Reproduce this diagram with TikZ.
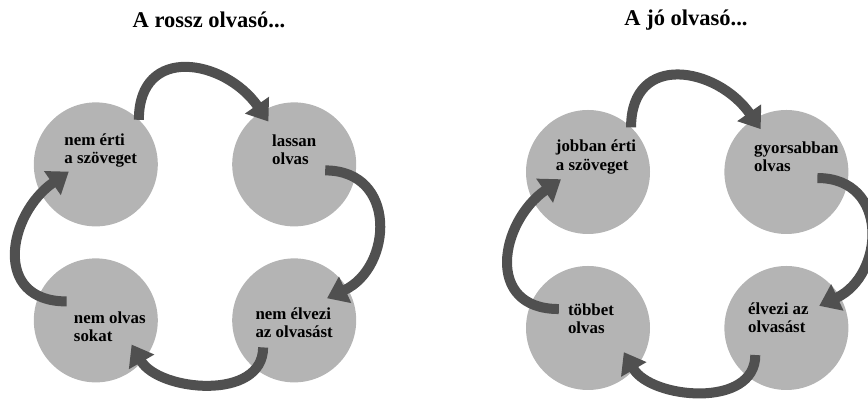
\documentclass[tikz,border=0pt]{standalone}
\usepackage{fontspec}
\setmainfont{Liberation Serif}
\usepackage{tikz}
\usetikzlibrary{calc,arrows.meta}

\definecolor{korgray}{RGB}{180,180,180}
\definecolor{nyilgray}{RGB}{80,80,80}

\begin{document}
\begin{tikzpicture}[
	kor/.style={circle, fill=korgray, minimum size=3.1cm, inner sep=0pt},
	szoveg/.style={font=\bfseries\fontsize{12}{13}\selectfont, align=left, inner sep=0pt},
	cim/.style={font=\bfseries\fontsize{16}{19}\selectfont, inner sep=0pt},
	nyil/.style={draw=nyilgray, line width=0.25cm, -{Triangle[width=0.7cm,length=0.5cm]}}
	]
	
	\useasboundingbox (0,0) rectangle (21.7,10.2);
	
	\node[cim] (rcim) at (5.225,9.7) {A rossz olvasó...};
	\node[cim] (jcim) at (17.15,9.7) {A jó olvasó...};
	
	% a rossz olvaso
	\begin{scope}[shift={(4.875,4.14)}]
		\node[kor] (r1) at (-2.48,1.95) {};
		\node[kor] (r2) at (2.48,1.95) {};
		\node[kor] (r3) at (2.48,-1.95) {};
		\node[kor] (r4) at (-2.48,-1.95) {};
		
		\draw[nyil] ($(r1)+(46:1.55)$) to[out=90,in=125,looseness=1.5] ($(r2)+(121:1.25)$);
		\draw[nyil] ($(r2)+(-11:0.79)$) to[out=0,in=25,looseness=1.45] ($(r3)+(34:0.99)$);
		\draw[nyil] ($(r3)+(221:1.03)$) to[out=270,in=300,looseness=1.05] ($(r4)+(-34:1.08)$);
		\draw[nyil] ($(r4)+(147:0.87)$) to[out=180,in=215,looseness=1.47] ($(r1)+(195:0.7)$);
		
		\node[szoveg] (r1t) at ($(r1)+(0.125,0.35)$) {nem érti\\a szöveget};
		\node[szoveg] (r2t) at ($(r2)+(0,0.375)$) {lassan\\olvas};
		\node[szoveg] (r3t) at ($(r3)+(0,-0.05)$) {nem élvezi\\az olvasást};
		\node[szoveg] (r4t) at ($(r4)+(0.35,-0.15)$) {nem olvas\\sokat};
	\end{scope}
	
	% a jo olvaso
	\begin{scope}[shift={(17.18,3.95)}]
		\node[kor] (j1) at (-2.48,1.95) {};
		\node[kor] (j2) at (2.48,1.95) {};
		\node[kor] (j3) at (2.48,-1.95) {};
		\node[kor] (j4) at (-2.48,-1.95) {};
		
		\draw[nyil] ($(j1)+(46:1.55)$) to[out=90,in=125,looseness=1.5] ($(j2)+(121:1.25)$);
		\draw[nyil] ($(j2)+(-11:0.79)$) to[out=0,in=25,looseness=1.45] ($(j3)+(34:0.99)$);
		\draw[nyil] ($(j3)+(221:1.03)$) to[out=270,in=300,looseness=1.05] ($(j4)+(-34:1.08)$);
		\draw[nyil] ($(j4)+(147:0.87)$) to[out=180,in=215,looseness=1.47] ($(j1)+(195:0.7)$);
		
		\node[szoveg] (j1t) at ($(j1)+(0.2,0.375)$) {jobban érti\\a szöveget};
		\node[szoveg] (j2t) at ($(j2)+(0.25,0.375)$) {gyorsabban\\olvas};
		\node[szoveg] (j3t) at ($(j3)+(-0.2,0.25)$) {élvezi az\\olvasást};
		\node[szoveg] (j4t) at ($(j4)+(0.075,0.225)$) {többet\\olvas};
	\end{scope}
	
\end{tikzpicture}
\end{document}
